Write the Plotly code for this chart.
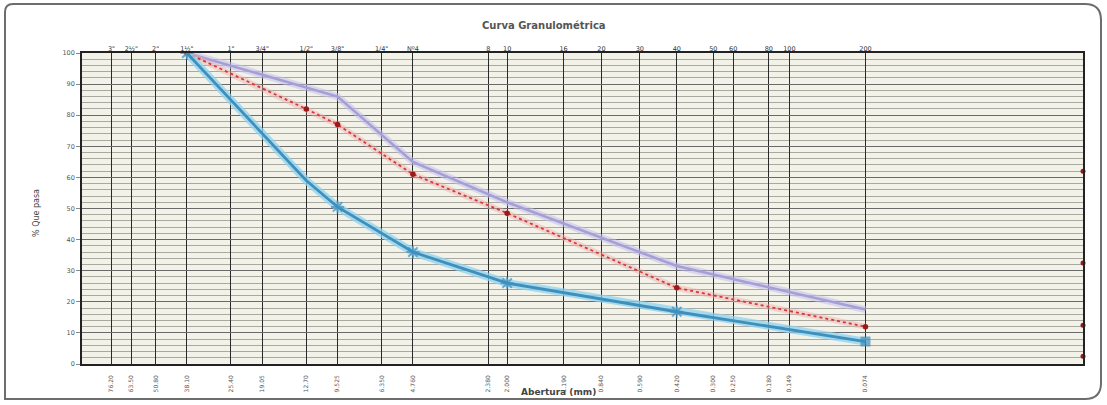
import plotly.graph_objects as go

# Sieve series: names (top axis) and openings in mm (bottom axis)
sieve_names = ['3"', '2½"', '2"', '1½"', '1"', '3/4"', '1/2"', '3/8"', '1/4"', 'Nº4',
               '8', '10', '16', '20', '30', '40', '50', '60', '80', '100', '200']
sieve_mm = [76.20, 63.50, 50.80, 38.10, 25.40, 19.05, 12.70, 9.525, 6.35, 4.76,
            2.38, 2.00, 1.19, 0.84, 0.59, 0.42, 0.30, 0.25, 0.18, 0.149, 0.074]
sieve_mm_text = ['76.20', '63.50', '50.80', '38.10', '25.40', '19.05', '12.70', '9.525',
                 '6.350', '4.760', '2.380', '2.000', '1.190', '0.840', '0.590', '0.420',
                 '0.300', '0.250', '0.180', '0.149', '0.074']

# Sieves used in the analysis
test_mm = [38.10, 12.70, 9.525, 4.76, 2.00, 0.42, 0.074]
upper_limit = [100, 89, 86, 65, 52, 31.5, 17.5]
sample = [100, 82, 77, 61, 48.5, 24.5, 12]
lower_limit = [100, 59, 50.5, 36, 26, 16.8, 7.2]

# Small marks on the right frame edge
edge_x = [0.01, 0.01, 0.01, 0.01]
edge_y = [62, 32.5, 12.5, 2.5]

W, H = 1107, 405
L, R, T, B = 82, 24, 53, 41
PW, PH = W - L - R, H - T - B


def fx(px):
    return (px - L) / PW


def fy(py):
    return (H - B - py) / PH


fig = go.Figure()

# Upper limit curve (lavender)
fig.add_trace(go.Scatter(x=test_mm, y=upper_limit, mode='lines',
                         line=dict(color='rgba(195,190,238,0.55)', width=7),
                         hoverinfo='skip', showlegend=False))
fig.add_trace(go.Scatter(x=test_mm, y=upper_limit, mode='lines',
                         line=dict(color='#a49fd4', width=2.5),
                         name='Límite superior', showlegend=False))

# Sample curve (red dotted)
fig.add_trace(go.Scatter(x=test_mm, y=sample, mode='lines',
                         line=dict(color='rgba(240,170,170,0.45)', width=6),
                         hoverinfo='skip', showlegend=False))
fig.add_trace(go.Scatter(x=test_mm, y=sample, mode='lines+markers',
                         line=dict(color='#d23a3a', width=1.8, dash='dot'),
                         marker=dict(size=5.5, color='#9a1a1a', symbol='circle'),
                         name='Muestra', showlegend=False))

# Lower limit curve (blue with halo)
fig.add_trace(go.Scatter(x=test_mm, y=lower_limit, mode='lines',
                         line=dict(color='rgba(140,210,240,0.75)', width=8),
                         hoverinfo='skip', showlegend=False))
fig.add_trace(go.Scatter(x=test_mm, y=lower_limit, mode='lines+markers',
                         line=dict(color='#3f8fbc', width=2.8),
                         marker=dict(size=[11, 0, 11, 11, 11, 11, 8], color='#3f8fbc',
                                     symbol=['asterisk-open'] * 6 + ['square'],
                                     line=dict(color='#3f8fbc', width=2)),
                         name='Límite inferior', showlegend=False))

# Edge marks
fig.add_trace(go.Scatter(x=edge_x, y=edge_y, mode='markers',
                         marker=dict(size=5, color='#8a1f1f'), cliponaxis=False,
                         hoverinfo='skip', showlegend=False))

# Carrier for the top sieve-name axis
fig.add_trace(go.Scatter(x=sieve_mm, y=[None] * len(sieve_mm), xaxis='x2',
                         mode='lines', hoverinfo='skip', showlegend=False))

fig.update_layout(
    width=W, height=H,
    margin=dict(l=L, r=R, t=T, b=B),
    paper_bgcolor='white',
    plot_bgcolor='#f2f2e8',
    font=dict(family='DejaVu Sans', color='#444'),
    xaxis=dict(type='log', range=[2, -2], tickmode='array',
               tickvals=sieve_mm, ticktext=sieve_mm_text, tickangle=-90,
               tickfont=dict(size=6, color='#555'), ticklabelstandoff=7,
               showgrid=True, gridcolor='#2a2a2a', gridwidth=1.4,
               showline=True, linecolor='#222', linewidth=1.6, mirror=True,
               ticks='', zeroline=False, automargin=False),
    xaxis2=dict(type='log', range=[2, -2], overlaying='x', side='top',
                tickmode='array', tickvals=sieve_mm, ticktext=sieve_names,
                tickfont=dict(size=6.5, color='#333'), showgrid=False,
                ticks='', automargin=False),
    yaxis=dict(range=[0, 100], dtick=10, tickfont=dict(size=6.5, color='#555'),
               ticks='outside', ticklen=4, tickcolor='#888',
               showgrid=True, gridcolor='#6a6a6a', gridwidth=1.1,
               minor=dict(dtick=2, showgrid=True, gridcolor='#a9a9a2', gridwidth=0.9),
               showline=True, linecolor='#222', linewidth=1.6, mirror=True,
               zeroline=False, automargin=False),
)

fig.add_annotation(text='<b>Curva Granulométrica</b>', xref='paper', yref='paper',
                   x=fx(544), y=fy(25), xanchor='center', yanchor='middle',
                   showarrow=False, font=dict(size=10, color='#555'))
fig.add_annotation(text='% Que pasa', xref='paper', yref='paper',
                   x=fx(36), y=fy(213), xanchor='center', yanchor='middle',
                   textangle=-90, showarrow=False, font=dict(size=8, color='#444'))
fig.add_annotation(text='<b>Abertura (mm)</b>', xref='paper', yref='paper',
                   x=fx(558), y=fy(392), xanchor='center', yanchor='middle',
                   showarrow=False, font=dict(size=9, color='#444'))

# Rounded frame around the sheet
x0, x1, y0, y1, r = 5, 1101, 4, 399, 16
path = (f'M {fx(x0)},{fy(y0 + 8)} Q {fx(x0)},{fy(y0)} {fx(x0 + 8)},{fy(y0)} '
        f'L {fx(x1 - r)},{fy(y0)} Q {fx(x1)},{fy(y0)} {fx(x1)},{fy(y0 + r)} '
        f'L {fx(x1)},{fy(y1 - r)} Q {fx(x1)},{fy(y1)} {fx(x1 - r)},{fy(y1)} '
        f'L {fx(x0)},{fy(y1)} Z')
fig.add_shape(type='path', path=path, xref='paper', yref='paper',
              line=dict(color='#6d6d6d', width=2), layer='below')

fig.write_html('out.html')
